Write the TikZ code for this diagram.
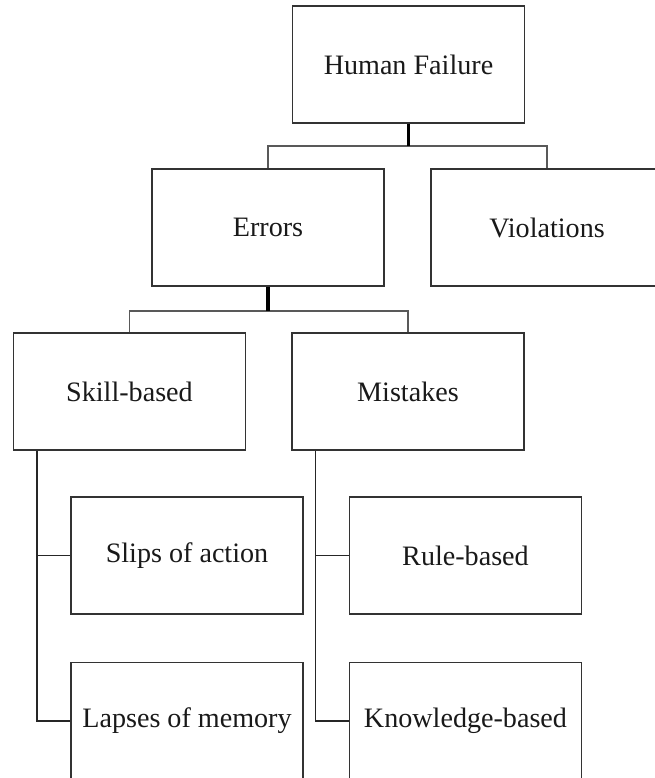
\documentclass[tikz,border=0pt]{standalone}
\usepackage{fontspec}
\setmainfont{Liberation Serif}
\usepackage{tikz,xcolor}
\tikzset{
	box/.style={draw=black!80, line width=0.9pt, minimum width=5.8cm, minimum height=2.925cm, text=black!90, font=\fontsize{20}{24}\selectfont},
	stem/.style={draw=black, line width=2.2pt},
	bar/.style={draw=black!65, line width=1.3pt},
	branch/.style={draw=black!85, line width=1pt}
	}

\begin{document}
\begin{tikzpicture}[x=0.025cm, y=-0.025cm]

	% picture frame (boxes run off the right and bottom edges)
	\useasboundingbox (0,0) rectangle (655,778);
	\clip (0,0) rectangle (655,778);

	% top level
	\node[box] (failure) at (408.5,64.5) {Human Failure};

	% second level
	\node[box] (errors) at (268,227.5) {Errors};
	\node[box] (violations) at (547,227.5) {Violations};

	% third level
	\node[box] (skill) at (129.5,391.5) {Skill-based};
	\node[box] (mistakes) at (408,391.5) {Mistakes};

	% fourth level
	\node[box] (slips) at (187,555.5) {Slips of action};
	\node[box] (lapses) at (187,721) {Lapses of memory};
	\node[box] (rule) at (465.5,555.5) {Rule-based};
	\node[box] (knowledge) at (465.5,721) {Knowledge-based};

	% forks
	\coordinate (fork1) at (408.5,146);
	\coordinate (fork2) at (268,311);

	% human failure -> errors, violations
	\draw[bar] (errors.north) |- (fork1) -| (violations.north);
	\draw[stem] (failure.south) -- (fork1);

	% errors -> skill-based, mistakes
	\draw[bar] (skill.north) |- (fork2) -| (mistakes.north);
	\draw[stem] (errors.south) -- (fork2);

	% skill-based -> slips, lapses
	\draw[branch] ([xshift=0.6cm]skill.south west) |- (slips.west);
	\draw[branch] ([xshift=0.6cm]skill.south west) |- (lapses.west);

	% mistakes -> rule, knowledge
	\draw[branch] ([xshift=0.6cm]mistakes.south west) |- (rule.west);
	\draw[branch] ([xshift=0.6cm]mistakes.south west) |- (knowledge.west);

\end{tikzpicture}
\end{document}
